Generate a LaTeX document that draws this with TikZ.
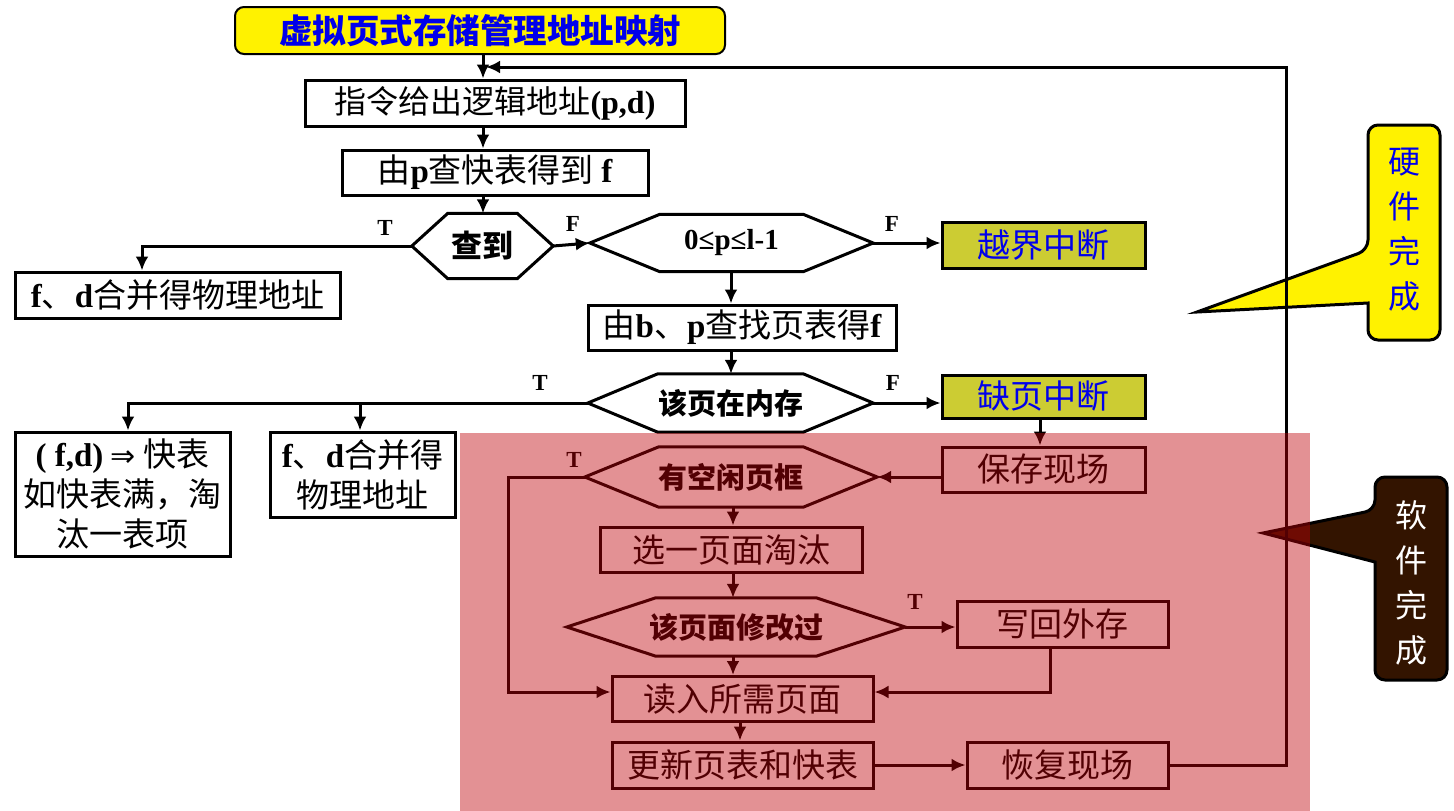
\documentclass[tikz,border=0pt]{standalone}
\usepackage{fontspec}
\setmainfont{Liberation Serif}
\newfontfamily\cjk{Noto Sans CJK SC}
\newfontfamily\djv{DejaVu Sans}
\usetikzlibrary{arrows.meta,calc}
\definecolor{olivebox}{RGB}{204,204,51}
\definecolor{brownbox}{RGB}{51,20,0}
\definecolor{tint}{RGB}{191,0,7}
\definecolor{tblue}{RGB}{0,0,235}
\newcommand\lb[1]{{\rmfamily\bfseries #1}}
\newcommand\hexpath[2]{\draw[hexline] (#1.west) -- ($(#1.north west)+(#2,0)$) -- ($(#1.north east)-(#2,0)$) -- (#1.east) -- ($(#1.south east)-(#2,0)$) -- ($(#1.south west)+(#2,0)$) -- cycle;}
\tikzset{
 box/.style={draw=black, line width=3pt, fill=white, inner sep=0pt, align=center, font=\cjk\fontsize{33}{40}\selectfont},
 hexn/.style={inner sep=0pt, font=\cjk\bfseries\fontsize{29}{32}\selectfont},
 hexline/.style={draw=black, line width=3pt, line join=miter},
 conn/.style={line width=3pt, -{Latex[length=14pt,width=13pt]}},
 lab/.style={font=\rmfamily\bfseries\fontsize{23}{26}\selectfont},
}
\begin{document}
\begin{tikzpicture}[x=1pt,y=-1pt]
\useasboundingbox (0,0) rectangle (1454,811);
% title
\node[draw=black, line width=2pt, fill=yellow, rounded corners=9pt, minimum width=490, minimum height=47, inner sep=0pt,
  font=\cjk\bfseries\fontsize{33.5}{36}\selectfont, text=tblue] (title) at (480,30.5) {虚拟页式存储管理地址映射};
% boxes
\node[box, minimum width=380, minimum height=46, font=\cjk\fontsize{32}{40}\selectfont] (b1) at (495,103) {指令给出逻辑地址\lb{(p,d)}};
\node[box, minimum width=306, minimum height=45] (b2) at (495,172.5) {由\lb{p}查快表得到 \lb{f}};
\node[hexn, minimum width=141, minimum height=65, font=\cjk\bfseries\fontsize{31}{34}\selectfont] (h1) at (482.5,246) {查到};
\hexpath{h1}{36}
\node[box, minimum width=325, minimum height=46] (b3) at (177.5,295) {\lb{f}、\lb{d}合并得物理地址};
\node[hexn, minimum width=283, minimum height=57, font=\rmfamily\bfseries\fontsize{29}{32}\selectfont] (h2) at (731.5,243) {0≤p≤l-1};
\hexpath{h2}{70}
\node[box, fill=olivebox, text=tblue, minimum width=203, minimum height=46] (b4) at (1043.5,245) {越界中断};
\node[box, minimum width=308, minimum height=45] (b5) at (742,327.5) {由\lb{b}、\lb{p}查找页表得\lb{f}};
\node[hexn, minimum width=285, minimum height=58] (h3) at (730.5,403) {该页在内存};
\hexpath{h3}{70}
\node[box, fill=olivebox, text=tblue, minimum width=203, minimum height=43] (b8) at (1043.5,396.5) {缺页中断};
\node[box, minimum width=215, minimum height=124] (b6) at (122.5,494) {\lb{( f,d)} {\djv\fontsize{30}{40}\selectfont ⇒} 快表\\如快表满，淘\\汰一表项};
\node[box, minimum width=185, minimum height=85] (b7) at (362.5,474.5) {\lb{f}、\lb{d}合并得\\物理地址};
\node[box, minimum width=203, minimum height=45] (b9) at (1043.5,469.5) {保存现场};
\node[hexn, minimum width=292, minimum height=60] (h4) at (731,477) {有空闲页框};
\hexpath{h4}{74}
\node[box, minimum width=262, minimum height=45] (b10) at (731,549.5) {选一页面淘汰};
\node[hexn, minimum width=338, minimum height=58] (h5) at (736,627) {该页面修改过};
\hexpath{h5}{89}
\node[box, minimum width=211, minimum height=46] (b11) at (1062.5,624) {写回外存};
\node[box, minimum width=261, minimum height=45] (b12) at (742.5,699) {读入所需页面};
\node[box, minimum width=261, minimum height=46] (b13) at (742.5,765) {更新页表和快表};
\node[box, minimum width=201, minimum height=46] (b14) at (1067.5,765) {恢复现场};
% helper coordinates
\coordinate (xa) at (483,0);
\coordinate (xb) at (731,0);
\coordinate (xc) at (733,0);
\coordinate (xd) at (740,0);
\coordinate (xe) at (1040,0);
\coordinate (xf) at (1050,0);
\coordinate (ry) at (0,692);
\coordinate (fb) at (1286,67);
\coordinate (fbin) at (486,67);
\coordinate (t1) at (142,246);
\coordinate (t3a) at (128,403);
\coordinate (t3b) at (360,403);
\coordinate (l4) at (508,477);
\coordinate (l4b) at (508,692);
\coordinate (w1) at (1050,692);
% callouts
\draw[line width=3pt, fill=yellow, line join=miter] (1368,303) [rounded corners=10pt] -- (1368,340) -- (1440,340) -- (1440,125) -- (1368,125) -- (1368,250) [sharp corners] -- (1197,312) -- cycle;
\node[font=\cjk\fontsize{32}{45}\selectfont, text=tblue, align=center, inner sep=0pt] (hw) at (1404,230) {硬\\件\\完\\成};
\draw[line width=3pt, fill=brownbox, line join=miter] (1375,562) [rounded corners=10pt] -- (1375,680) -- (1447,680) -- (1447,477) -- (1375,477) -- (1375,510) [sharp corners] -- (1263,533) -- cycle;
\node[font=\cjk\fontsize{32}{45}\selectfont, text=white, align=center, inner sep=0pt] (sw) at (1411,583) {软\\件\\完\\成};
% connectors
\draw[conn] (title.south -| xa) -- (b1.north -| xa);
\draw[conn] (b1.south -| xa) -- (b2.north -| xa);
\draw[conn] (b2.south -| xa) -- (h1.north -| xa);
\draw[conn] (b14.east) -- (b14.east -| fb) -- (fb) -- (fbin);
\draw[conn] (h1.west) -- (t1) -- (b3.north -| t1);
\node[lab] (lt1) at (385,228) {T};
\draw[conn] (h1.east) -- (h2.west);
\node[lab] (lf1) at (573,224) {F};
\draw[conn] (h2.east) -- (b4.west |- h2.east);
\node[lab] (lf2) at (892,224) {F};
\draw[conn] (h2.south -| xb) -- (b5.north -| xb);
\draw[conn] (b5.south -| xb) -- (h3.north -| xb);
\draw[conn] (h3.west) -- (t3a) -- (b6.north -| t3a);
\draw[conn] (t3b) -- (b7.north -| t3b);
\node[lab] (lt3) at (540,383) {T};
\draw[conn] (h3.east) -- (b8.west |- h3.east);
\node[lab] (lf3) at (893,383) {F};
\draw[conn] (b8.south -| xe) -- (b9.north -| xe);
\draw[conn] (b9.west |- h4.east) -- (h4.east);
\draw[conn] (h4.west) -- (l4) -- (l4b) -- (b12.west |- ry);
\node[lab] (lt4) at (574,460) {T};
\draw[conn] (h4.south -| xc) -- (b10.north -| xc);
\draw[conn] (b10.south -| xc) -- (h5.north -| xc);
\draw[conn] (h5.east) -- (b11.west |- h5.east);
\node[lab] (lt5) at (915,602) {T};
\draw[conn] (b11.south -| xf) -- (w1) -- (b12.east |- ry);
\draw[conn] (h5.south -| xc) -- (b12.north -| xc);
\draw[conn] (b12.south -| xd) -- (b13.north -| xd);
\draw[conn] (b13.east) -- (b14.west);
% translucent overlay
\fill[tint, opacity=0.431] (460,433) rectangle (1310,811);
\end{tikzpicture}
\end{document}
